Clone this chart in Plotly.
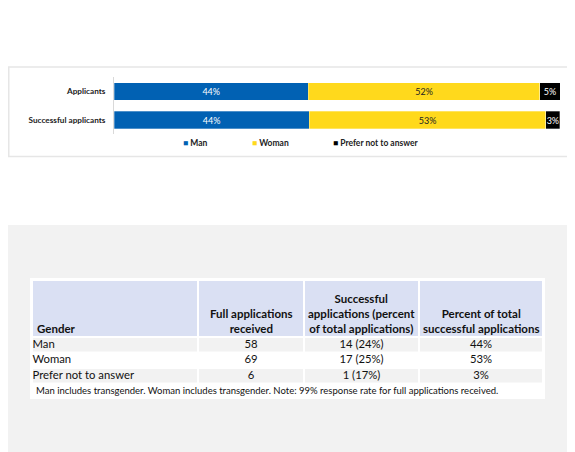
import plotly.graph_objects as go

# page has an 8px body margin; figure fills the rest of the window
W, H = 567, 444
OFF = 8

# bar chart data (share of each group, percent)
groups = ["Applicants", "Successful applicants"]
genders = ["Man", "Woman", "Prefer not to answer"]
colors = ["#0161b3", "#ffd91c", "#000000"]
text_colors = ["#ffffff", "#222222", "#ffffff"]
share_applicants = [43.6, 51.9, 4.5]
share_successful = [43.75, 53.1, 3.1]

# table data
headers = ["Gender", "Full applications<br>received",
           "Successful<br>applications (percent<br>of total applications)",
           "Percent of total<br>successful applications"]
full_received = [58, 69, 6]
successful_n = [14, 17, 1]
successful_pct = [24, 25, 17]
total_share = [44, 53, 3]
note = ("Man includes transgender. Woman includes transgender. "
        "Note: 99% response rate for full applications received.")

# table layout (pixels)
col_w = [166, 106, 115, 124]
head_h, row_h, note_h = 57, 15.5, 15


def px_x(x):
    return (x - OFF) / W


def px_y(y):
    return 1 - (y - OFF) / H


fig = go.Figure()

for i, g in enumerate(genders):
    fig.add_trace(go.Bar(
        y=groups,
        x=[share_applicants[i], share_successful[i]],
        name=g,
        orientation="h",
        marker=dict(color=colors[i], line=dict(color="rgba(255,255,255,0.6)", width=0.5)),
        texttemplate="%{x:.0f}%",
        textposition="inside",
        insidetextanchor="middle",
        constraintext="none",
        textangle=0,
        textfont=dict(family="Lato", size=9, color=text_colors[i]),
        showlegend=False,
        hoverinfo="skip",
    ))

# ---- table, drawn on its own axes (x: pixels across, y: pixels down)
col_x0 = [sum(col_w[:j]) for j in range(len(col_w))]
tab_w = sum(col_w)
tab_h = head_h + row_h * len(genders) + note_h

body_cols = [genders,
             [str(v) for v in full_received],
             [f"{n} ({p}%)" for n, p in zip(successful_n, successful_pct)],
             [f"{s}%" for s in total_share]]

shapes = [
    # grey lower band
    dict(type="rect", xref="paper", yref="paper", x0=-0.1, x1=1.1, y0=-0.1, y1=px_y(225),
         fillcolor="#f2f2f2", line_width=0, layer="below"),
    # chart frame
    dict(type="rect", xref="paper", yref="paper", x0=px_x(8.75), x1=px_x(600),
         y0=px_y(156.5), y1=px_y(67), fillcolor="rgba(0,0,0,0)",
         line=dict(color="#e6e6e6", width=1.5), layer="below"),
    # white table panel
    dict(type="rect", xref="paper", yref="paper", x0=px_x(30), x1=px_x(545),
         y0=px_y(399), y1=px_y(278), fillcolor="#ffffff", line_width=0, layer="below"),
]

# header cells
for j, w in enumerate(col_w):
    shapes.append(dict(type="rect", xref="x2", yref="y2",
                       x0=col_x0[j] + 1, x1=col_x0[j] + w - 1, y0=1, y1=head_h - 1,
                       fillcolor="#dae0f3", line_width=0, layer="below"))
# body cells, alternate grey / white
for r in range(len(genders)):
    if r % 2 == 0:
        top = head_h + r * row_h
        for j, w in enumerate(col_w):
            shapes.append(dict(type="rect", xref="x2", yref="y2",
                               x0=col_x0[j] + 1, x1=col_x0[j] + w - 1,
                               y0=top + 1, y1=top + row_h - 1,
                               fillcolor="#f2f2f2", line_width=0, layer="below"))

# body text as a text scatter on the table axes
tx, ty, tt, tp = [], [], [], []
for j, col in enumerate(body_cols):
    for r, val in enumerate(col):
        tx.append(col_x0[j] + 0.5 if j == 0 else col_x0[j] + col_w[j] / 2)
        ty.append(head_h + r * row_h + row_h / 2)
        tt.append(val)
        tp.append("middle right" if j == 0 else "middle center")
fig.add_trace(go.Scatter(
    x=tx, y=ty, text=tt, mode="text", textposition=tp, xaxis="x2", yaxis="y2",
    textfont=dict(family="Lato", size=11.3, color="#111111"),
    showlegend=False, hoverinfo="skip", cliponaxis=False,
))

annotations = []
for j, h in enumerate(headers):
    annotations.append(dict(
        text=h, xref="x2", yref="y2",
        x=col_x0[j] + 3 if j == 0 else col_x0[j] + col_w[j] / 2,
        y=head_h - 0.5, xanchor="left" if j == 0 else "center", yanchor="bottom",
        align="left" if j == 0 else "center", showarrow=False,
        font=dict(family="Lato", size=11.5, color="#111111", weight="bold"),
    ))
annotations.append(dict(
    text=note, xref="x2", yref="y2", x=2, y=head_h + row_h * len(genders) + note_h / 2 - 1,
    xanchor="left", yanchor="middle", showarrow=False,
    font=dict(family="Lato", size=9.5, color="#111111"),
))

# legend drawn as small squares + labels
legend_x = [183, 252, 333]
for g, c, lx in zip(genders, colors, legend_x):
    annotations.append(dict(
        text=f"<span style='color:{c}'>■</span> {g}", xref="paper", yref="paper",
        x=px_x(lx - 2), y=px_y(143), xanchor="left", yanchor="middle", showarrow=False,
        font=dict(family="Lato", size=8.5, color="#222222", weight="bold"),
    ))

fig.update_layout(
    width=W, height=H,
    margin=dict(l=0, r=0, t=0, b=0),
    paper_bgcolor="#ffffff",
    plot_bgcolor="rgba(0,0,0,0)",
    barmode="stack",
    bargap=0.38,
    xaxis=dict(domain=[px_x(114), px_x(560)], range=[0, 100], visible=False, fixedrange=True),
    yaxis=dict(domain=[px_y(134.25), px_y(77.25)], categoryorder="array",
               categoryarray=groups[::-1], range=[-0.5, 1.5],
               showline=True, linecolor="#d9d9d9", linewidth=1, ticks="",
               ticklabelstandoff=6, showgrid=False, zeroline=False, fixedrange=True,
               tickfont=dict(family="Lato", size=8.2, color="#222222", weight="bold")),
    xaxis2=dict(domain=[px_x(32), px_x(543)], range=[0, tab_w], anchor="y2",
                visible=False, fixedrange=True),
    yaxis2=dict(domain=[px_y(280 + tab_h), px_y(280)], range=[tab_h, 0], anchor="x2",
                visible=False, fixedrange=True),
    shapes=shapes,
    annotations=annotations,
)

fig.write_html("out.html")
